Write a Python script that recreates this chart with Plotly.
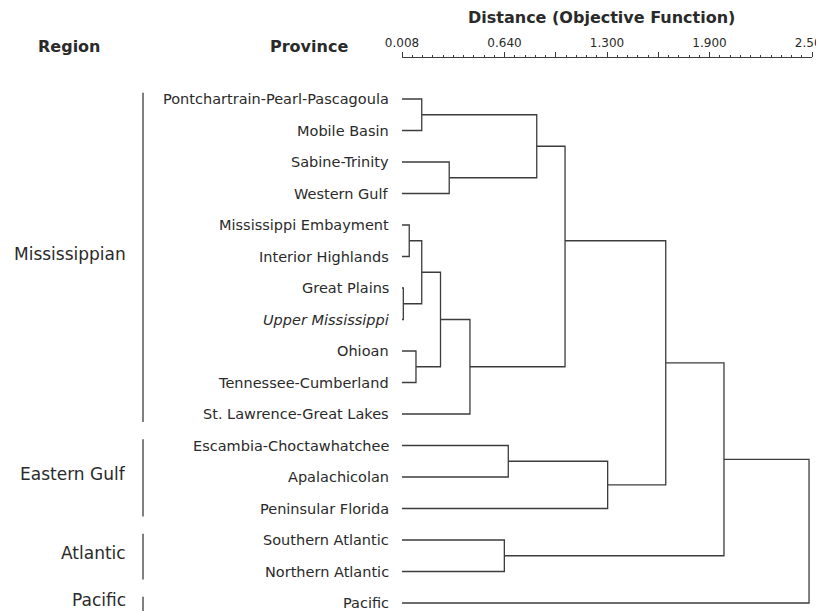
import plotly.graph_objects as go

# ---------------- data ----------------
provinces = [
    "Pontchartrain-Pearl-Pascagoula", "Mobile Basin", "Sabine-Trinity", "Western Gulf",
    "Mississippi Embayment", "Interior Highlands", "Great Plains", "<i>Upper Mississippi</i>",
    "Ohioan", "Tennessee-Cumberland", "St. Lawrence-Great Lakes",
    "Escambia-Choctawhatchee", "Apalachicolan", "Peninsular Florida",
    "Southern Atlantic", "Northern Atlantic", "Pacific",
]
regions = ["Mississippian", "Eastern Gulf", "Atlantic", "Pacific"]
region_first = [0, 11, 14, 16]
region_last = [10, 13, 15, 16]

# agglomeration: node ids 0..16 are leaves, each merge creates node 17, 18, ...
merge_a = [0, 2, 17, 4, 6, 20, 8, 22, 24, 19, 11, 27, 26, 14, 29, 31]
merge_b = [1, 3, 18, 5, 7, 21, 9, 23, 10, 25, 12, 13, 28, 15, 30, 16]
merge_dist = [0.128, 0.295, 0.827, 0.052, 0.016, 0.128, 0.093, 0.242, 0.421,
              0.999, 0.654, 1.258, 1.611, 0.630, 1.965, 2.482]
# vertical position of the joining node (leaf units); None = midpoint of children
merge_pos = [None, None, None, None, None, None, None, None, None,
             4.5, None, None, None, None, None, None]

axis_min, axis_max = 0.008, 2.500
tick_labels = ["0.008", "", "0.640", "", "1.300", "", "1.900", "", "2.500"]

# ---------------- build dendrogram segments ----------------
n_leaf = len(provinces)
pos = {i: float(i) for i in range(n_leaf)}
hgt = {i: axis_min for i in range(n_leaf)}
xs, ys = [], []
for k, (a, b, d) in enumerate(zip(merge_a, merge_b, merge_dist)):
    node = n_leaf + k
    p = merge_pos[k] if merge_pos[k] is not None else (pos[a] + pos[b]) / 2
    xs += [hgt[a], d, d, hgt[b], None]
    ys += [pos[a], pos[a], pos[b], pos[b], None]
    pos[node] = p
    hgt[node] = d

LINE = "#3c3c3c"
TEXT = "#2a2a2a"

fig = go.Figure()
fig.add_trace(go.Scatter(x=xs, y=ys, mode="lines",
                         line=dict(color=LINE, width=1.3),
                         hoverinfo="skip", showlegend=False, cliponaxis=False))

n_t = len(tick_labels)
tick_vals = [axis_min + i * (axis_max - axis_min) / (n_t - 1) for i in range(n_t)]
minor_vals = [axis_min + i * (axis_max - axis_min) / ((n_t - 1) * 5) for i in range((n_t - 1) * 5 + 1)]

OFF = 8  # page body margin
W, H = 824 - OFF, 611 - OFF
ML, MR, MT, MB = 402 - OFF, 12, 58 - OFF, 0
plot_w = W - ML - MR
plot_h = H - MT - MB
leaf_px = 31.5
y_top = 0 - (99 - 58) / leaf_px
y_bot = (n_leaf - 1) + (611 - 603) / leaf_px


def px_x(px):  # reference-pixel x -> paper
    return (px - OFF - ML) / plot_w


def px_y(py):  # reference-pixel y -> paper
    return 1 + (MT - (py - OFF)) / plot_h


fig.update_layout(
    width=W, height=H,
    margin=dict(l=ML, r=MR, t=MT, b=MB, autoexpand=False),
    paper_bgcolor="white", plot_bgcolor="white",
    font=dict(family="DejaVu Sans", color=TEXT),
    xaxis=dict(range=[axis_min, axis_max], side="top", showline=True, linecolor=LINE,
               linewidth=1, ticks="outside", ticklen=5, tickcolor=LINE, tickwidth=1,
               tickmode="array", tickvals=tick_vals, ticktext=tick_labels,
               ticklabeloverflow="allow", automargin=False,
               tickfont=dict(size=12, color=TEXT), showgrid=False, zeroline=False,
               minor=dict(tickmode="array", tickvals=minor_vals, ticks="outside",
                          ticklen=2, tickcolor=LINE)),
    yaxis=dict(range=[y_bot, y_top], visible=False, showgrid=False, zeroline=False,
               automargin=False),
)

ann = []
# title and headers
ann.append(dict(text="<b>Distance (Objective Function)</b>", xref="paper", yref="paper",
                x=px_x(601), y=px_y(18), xanchor="center", yanchor="middle",
                showarrow=False, font=dict(size=16, color=TEXT)))
ann.append(dict(text="<b>Region</b>", xref="paper", yref="paper",
                x=px_x(69), y=px_y(47), xanchor="center", yanchor="middle",
                showarrow=False, font=dict(size=16, color=TEXT)))
ann.append(dict(text="<b>Province</b>", xref="paper", yref="paper",
                x=px_x(350), y=px_y(47), xanchor="right", yanchor="middle",
                showarrow=False, font=dict(size=16, color=TEXT)))
# leaf labels
for i, name in enumerate(provinces):
    ann.append(dict(text=name, xref="x", yref="y", x=axis_min, y=i,
                    xanchor="right", yanchor="middle", xshift=-11,
                    showarrow=False, font=dict(size=14.5, color=TEXT)))
# region labels and brackets
shapes = []
for r, f, l in zip(regions, region_first, region_last):
    ann.append(dict(text=r, xref="paper", yref="y", x=px_x(128), y=(f + l) / 2,
                    xanchor="right", yanchor="middle", yshift=3, showarrow=False,
                    font=dict(size=17, color=TEXT)))
    shapes.append(dict(type="line", xref="paper", yref="y", x0=px_x(143), x1=px_x(143),
                       y0=f - 0.2, y1=l + 0.25, line=dict(color=LINE, width=1.3)))

fig.update_layout(annotations=ann, shapes=shapes)
fig.write_html("out.html")
